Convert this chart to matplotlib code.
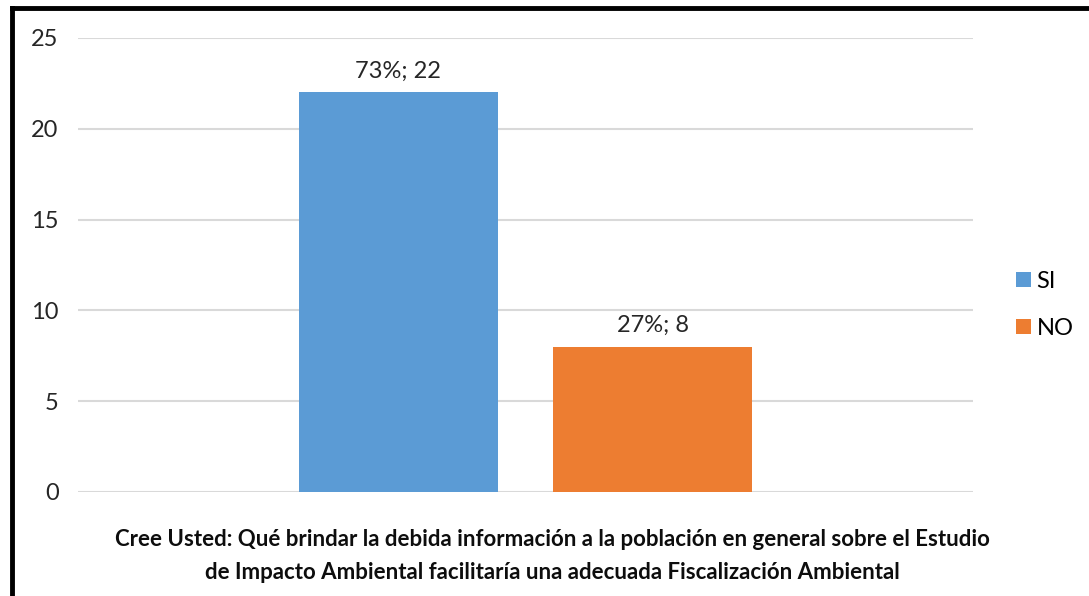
import matplotlib

matplotlib.use("Agg")
import matplotlib.pyplot as plt
from matplotlib.lines import Line2D
from matplotlib.patches import Patch

series = ["SI", "NO"]
values = [22, 8]
labels = ["73%; 22", "27%; 8"]
colors = ["#5B9BD5", "#ED7D31"]
yticks = [0, 5, 10, 15, 20, 25]
title = ("Cree Usted: Qué brindar la debida información a la población en general sobre el Estudio\n"
         "de Impacto Ambiental facilitaría una adecuada Fiscalización Ambiental")

plt.rcParams["font.family"] = ["Lato", "DejaVu Sans"]

fig = plt.figure(figsize=(10.89, 5.96), dpi=100)
ax = fig.add_axes([78 / 1089, 1 - 492 / 596, 895 / 1089, 454 / 596])

bar_w = 0.445
gap = 0.123
n = len(values)
for i, (v, c, lab) in enumerate(zip(values, colors, labels)):
    x = (i - (n - 1) / 2) * (bar_w + gap)
    ax.bar(x, v, width=bar_w, color=c, zorder=3, label=series[i])
    ax.annotate(lab, (x, v), xytext=(0, 8), textcoords="offset points",
                ha="center", va="bottom", fontsize=17, color="#262626")

ax.set_xlim(-1, 1)
ax.set_ylim(0, 25)
ax.set_yticks(yticks)
ax.set_xticks([])
ax.grid(axis="y", color="#d9d9d9", linewidth=1.5, zorder=0)
for s in ax.spines.values():
    s.set_visible(False)
ax.tick_params(axis="y", length=0, pad=14, labelsize=17, labelcolor="#262626")

handles = [Patch(facecolor=c, label=s) for s, c in zip(series, colors)]
fig.legend(handles=handles, loc="center left", bbox_to_anchor=(1007 / 1089, 1 - 305 / 596),
           frameon=False, fontsize=17, handlelength=0.6, handleheight=0.6,
           handletextpad=0.25, labelspacing=1.1, borderaxespad=0)

fig.text(552 / 1089, 1 - 556 / 596, title, ha="center", va="center", fontsize=16,
         fontweight="bold", linespacing=1.65, color="#0d0d0d")

# black frame on top and left, as in the screenshot
fig.add_artist(Line2D([12 / 1089, 12 / 1089], [0, 1 - 8 / 596], transform=fig.transFigure,
                      color="black", linewidth=3.5, solid_capstyle="projecting"))
fig.add_artist(Line2D([12 / 1089, 1], [1 - 8 / 596, 1 - 8 / 596], transform=fig.transFigure,
                      color="black", linewidth=3.5, solid_capstyle="projecting"))

fig.savefig("out.png", dpi=100)
